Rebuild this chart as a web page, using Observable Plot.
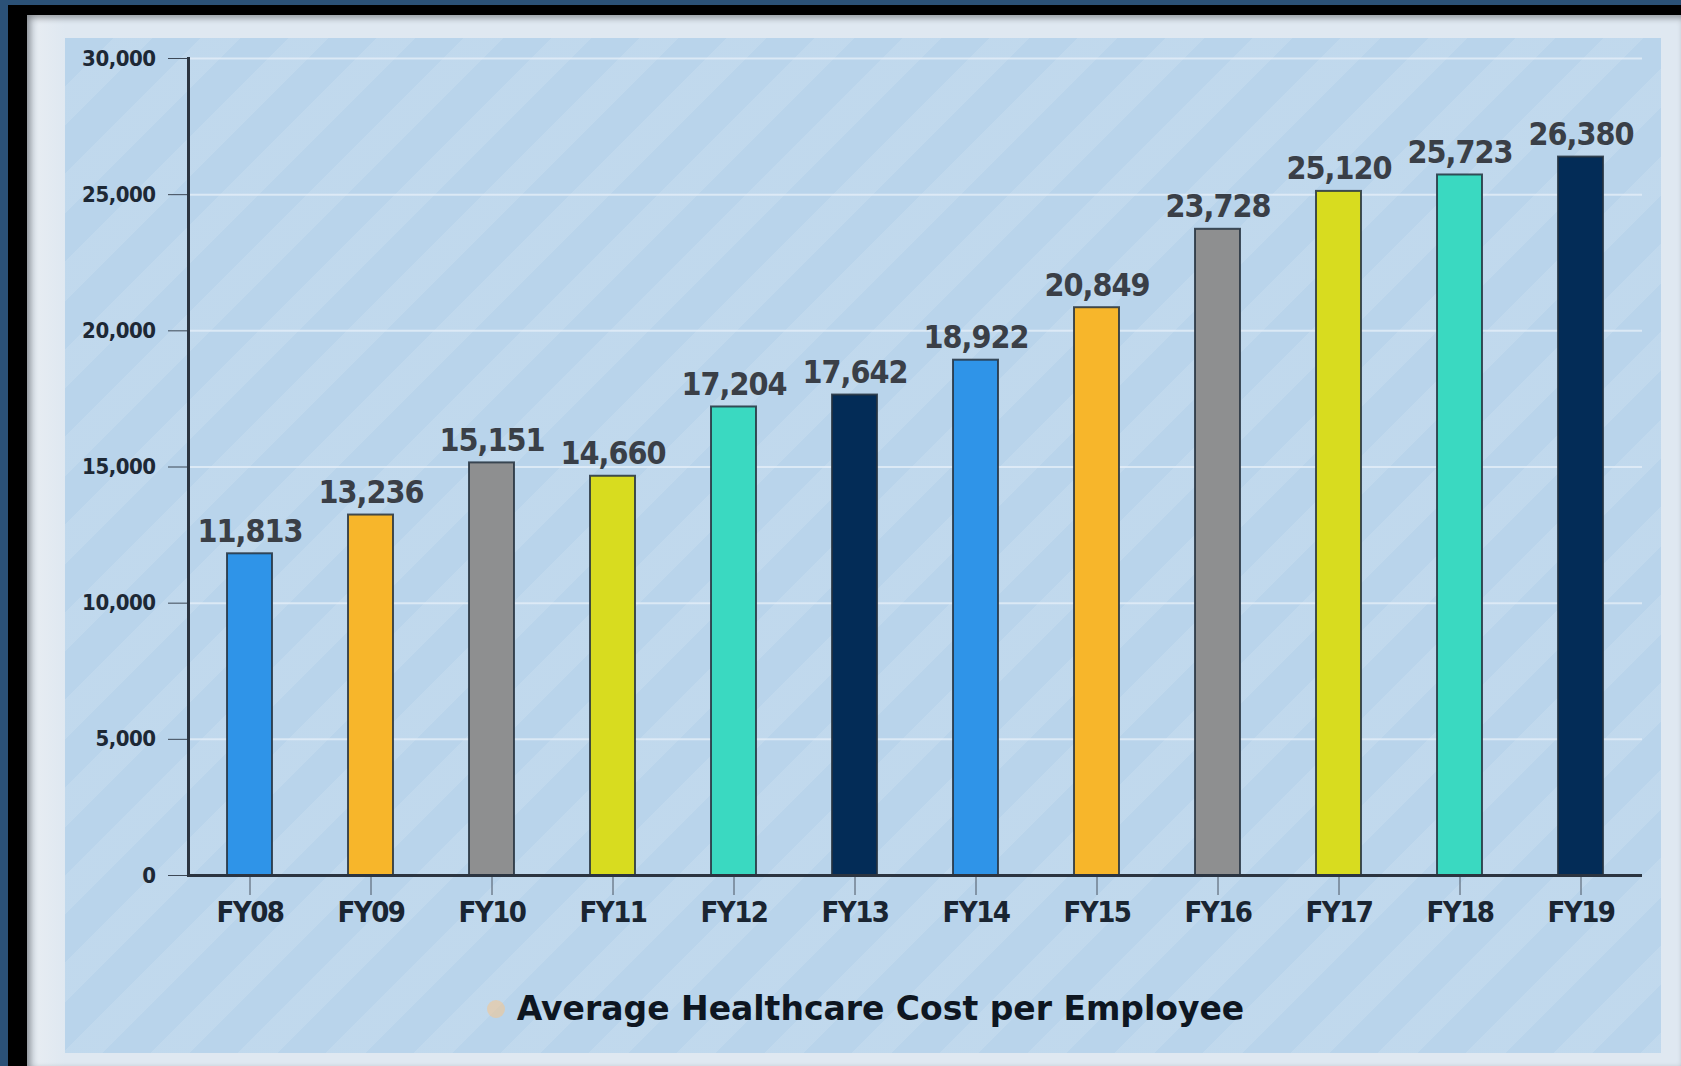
<!DOCTYPE html>
<html>
<head>
<meta charset="utf-8">
<script src="https://cdn.jsdelivr.net/npm/d3@7"></script>
<script src="https://cdn.jsdelivr.net/npm/@observablehq/plot@0.6"></script>
<style>
  html, body { margin: 0; padding: 0; background: #2b5177; }
  #page { position: relative; width: 1681px; height: 1066px; overflow: hidden; background: #2b5177; }
  #black { position: absolute; left: 8px; top: 5px; right: -20px; bottom: -20px; background: #000; }
  #paper { position: absolute; left: 27px; top: 15px; right: 0; bottom: 0;
    background: linear-gradient(90deg, #cfd7e0 0px, #e6ecf2 12px, #dfe8f1 38px);
    box-shadow: inset 3px 3px 6px rgba(0,0,0,0.35); }
  #panel { position: absolute; left: 65px; top: 38px; width: 1596px; height: 1015px;
    background-color: #b9d4eb;
    background-image: repeating-linear-gradient(135deg, rgba(255,255,255,0) 0px, rgba(255,255,255,0) 34px, rgba(255,255,255,0.11) 34px, rgba(255,255,255,0.11) 62px); }
  #chart { position: absolute; left: 0; top: 0; }
  #chart g[aria-label="text"] text { letter-spacing: -1px; }
  #chart g[aria-label="x-axis tick label"] text { letter-spacing: -1.5px; }
  #chart g[aria-label="y-axis tick label"] text { letter-spacing: -0.5px; }
  #legend { position: absolute; left: 0; top: 989px; width: 1681px; display: flex; justify-content: center; align-items: center; gap: 12px;
    font-family: "DejaVu Sans", sans-serif; font-weight: bold; font-size: 33px; color: #0e1621; padding-left: 50px; box-sizing: border-box; }
  #legend .dot { width: 18px; height: 18px; border-radius: 50%; background: rgba(246,196,140,0.55); }
</style>
</head>
<body>
<div id="page">
  <div id="black"></div>
  <div id="paper"></div>
  <div id="panel"></div>
  <div id="chart"></div>
  <div id="legend"><span class="dot"></span><span>Average Healthcare Cost per Employee</span></div>
</div>
<script>
const years = ["FY08","FY09","FY10","FY11","FY12","FY13","FY14","FY15","FY16","FY17","FY18","FY19"];
const costs = [11813, 13236, 15151, 14660, 17204, 17642, 18922, 20849, 23728, 25120, 25723, 26380];
const barColors = ["#2f94e8","#f7b62b","#8e8f90","#d8dc1f","#3ad9c1","#032c57","#2f94e8","#f7b62b","#8e8f90","#d8dc1f","#3ad9c1","#032c57"];
const yTicks = [0, 5000, 10000, 15000, 20000, 25000, 30000];

const data = years.map((y, i) => ({year: y, value: costs[i], color: barColors[i]}));
const fmt = d3.format(",");
const narrow = "'Liberation Sans Narrow', 'DejaVu Sans Condensed', 'Roboto', sans-serif";

const chart = Plot.plot({
  width: 1681,
  height: 930,
  marginTop: 58,
  marginBottom: 55,
  marginLeft: 188,
  marginRight: 39,
  style: {background: "transparent", overflow: "visible"},
  x: {domain: years, paddingInner: 0.63, paddingOuter: 0.315, label: null},
  y: {domain: [0, 30000], label: null},
  marks: [
    Plot.gridY(yTicks, {stroke: "#e4eef8", strokeOpacity: 0.8, strokeWidth: 2}),
    Plot.barY(data, {x: "year", y: "value", fill: "color", stroke: "#26323f", strokeWidth: 2, strokeOpacity: 0.85}),
    Plot.text(data, {x: "year", y: "value", text: d => fmt(d.value), dy: -12, lineAnchor: "bottom",
      fontSize: 32, fontWeight: "bold", fill: "#3a3f47", fontFamily: narrow}),
    Plot.axisY({ticks: yTicks, tickFormat: d => fmt(d), tickSize: 20, tickPadding: 13, stroke: "#3d4856",
      fontSize: 22, fontWeight: "bold", fill: "#1d2835", fontFamily: narrow, label: null}),
    Plot.axisX({tickSize: 20, tickPadding: 6, stroke: "#4a5563",
      fontSize: 29, fontWeight: "bold", fill: "#1a2532", fontFamily: narrow, label: null}),
    Plot.frame({anchor: "left", stroke: "#2b3440", strokeWidth: 3}),
    Plot.ruleY([0], {stroke: "#2b3440", strokeWidth: 3})
  ]
});
document.getElementById("chart").appendChild(chart);
</script>
</body>
</html>
